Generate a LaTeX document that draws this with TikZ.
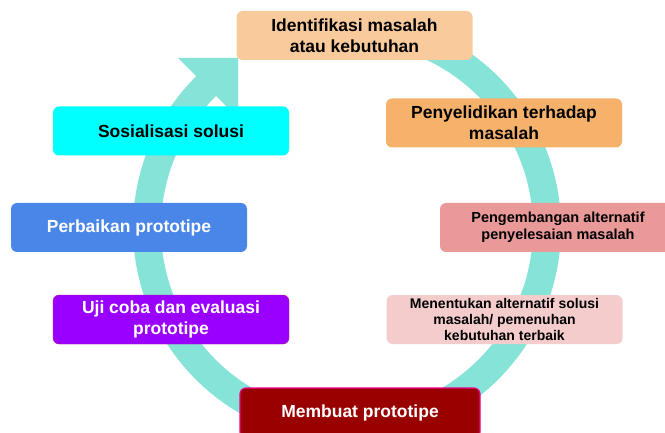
\documentclass[tikz,border=0pt]{standalone}
\usepackage{fontspec}
\setmainfont{Liberation Sans}
\definecolor{ringcol}{HTML}{86E3D7}
\definecolor{peach}{HTML}{F9CB9C}
\definecolor{oranye}{HTML}{F6B26B}
\definecolor{merahmuda}{HTML}{EA9999}
\definecolor{pinkmuda}{HTML}{F4CCCC}
\definecolor{merahtua}{HTML}{990000}
\definecolor{ungu}{HTML}{9900FF}
\definecolor{biru}{HTML}{4A86E8}
\definecolor{sian}{HTML}{00FFFF}
\tikzset{
	tahap/.style={rectangle,rounded corners=6pt,minimum width=236pt,minimum height=49pt,
		inner sep=0pt,align=center,font=\fontsize{17.5}{21}\selectfont\bfseries},
}
\begin{document}
\begin{tikzpicture}[x=1pt,y=1pt]
		\useasboundingbox (0,0) rectangle (665,432);
		\clip (0,0) rectangle (665,432);
		% lingkaran siklus
		\coordinate (pusat) at (347,204);
		\coordinate (ujung) at (238,374);
		\coordinate (sayapkiri) at (178,374);
		\coordinate (sayapkanan) at (238,314);
		\draw[line width=28pt,color=ringcol] (pusat) ++(90:200pt) arc[start angle=90,end angle=-225.4,radius=200pt];
		\fill[ringcol] (ujung) -- (sayapkiri) -- (sayapkanan) -- cycle;
		% tahapan
		\node[tahap,fill=peach] (idn) at (354.5,396.5) {Identifikasi masalah\\atau kebutuhan};
		\node[tahap,fill=oranye] (sel) at (504,309) {Penyelidikan terhadap\\masalah};
		\node[tahap,fill=merahmuda,font=\fontsize{14.5}{17}\selectfont\bfseries] (kem) at (558,204.5) {Pengembangan alternatif\\penyelesaian masalah};
		\node[tahap,fill=pinkmuda,font=\fontsize{14}{16}\selectfont\bfseries] (tnt) at (504.5,112.5) {Menentukan alternatif solusi\\masalah/ pemenuhan\\kebutuhan terbaik};
		\node[tahap,fill=merahtua,draw=magenta,line width=1.2pt,text=white,minimum width=240pt,minimum height=50pt] (buat) at (360,19) {Membuat prototipe};
		\node[tahap,fill=ungu,draw=magenta!40!ungu,text=white] (uji) at (171,112.5) {Uji coba dan evaluasi\\prototipe};
		\node[tahap,fill=biru,text=white] (baik) at (129,204.5) {Perbaikan prototipe};
		\node[tahap,fill=sian] (sos) at (171,301) {Sosialisasi solusi};
\end{tikzpicture}
\end{document}
